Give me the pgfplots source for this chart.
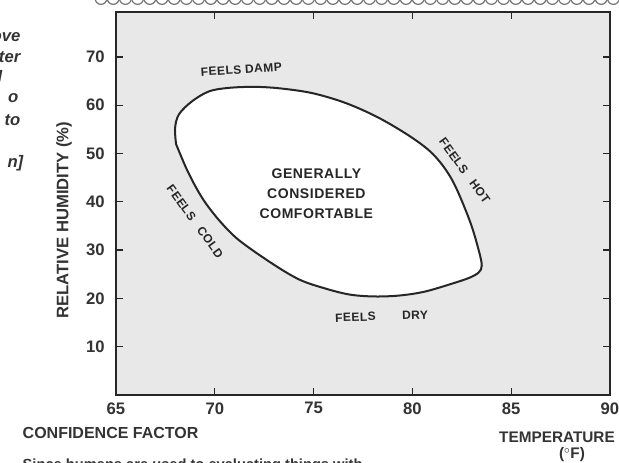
\documentclass[border=0pt]{standalone}
\usepackage{pgfplots}
\pgfplotsset{compat=1.18}
\usepackage{fontspec}
\setmainfont{Liberation Sans}
\newfontfamily\labfont{Liberation Sans}[LetterSpace=4]
\begin{document}
\begin{tikzpicture}[x=0.75pt,y=0.75pt]
\path[use as bounding box] (0,0) rectangle (619,462);
% decorative scalloped border at top
\foreach \i in {0,...,42} {
  \draw[black!55, line width=0.9pt] (101+\i*12.2, 463.5) circle[radius=4.4pt];
}
\begin{axis}[
  at={(87pt,50.25pt)}, anchor=south west,
  scale only axis, width=370.5pt, height=287.25pt,
  xmin=65, xmax=90, ymin=0, ymax=79.3,
  xtick={65,70,...,90}, ytick={10,20,...,70},
  tick align=inside, major tick length=5pt,
  tick style={black!85, line width=1pt},
  axis line style={black!85, line width=1.1pt},
  axis background/.style={fill=black!9},
  ticklabel style={font=\bfseries\fontsize{12.5}{14}\selectfont, text=black!80},
  /pgf/number format/assume math mode=true,
  xticklabel style={yshift=-2pt},
  yticklabel style={xshift=-5pt},
  clip=false,
]
\addplot[smooth, tension=0.55, draw=black!85, line width=1.5pt, fill=white] coordinates {
(68.04,51.96) (67.99,55.26) (68.19,58.14) (68.85,60.82) (69.72,62.89)
(70.73,63.6) (72.0,63.8) (73.27,63.5) (74.94,62.5) (76.66,60.4)
(78.34,57.3) (80.01,53.2) (81.13,49.5) (82.04,44.3) (82.9,36.1)
(83.36,29.9) (83.51,26.8) (83.36,25.4) (82.9,24.3) (82.04,23.1)
(80.62,21.4) (79.35,20.6) (78.08,20.4) (76.82,20.8) (75.55,22.1)
(74.28,23.9) (72.91,27.2) (71.24,32.0) (70.32,35.7) (69.56,39.6)
(69.06,42.9) (68.55,47.0) (68.04,51.96)
};
\node[font=\labfont\bfseries\fontsize{9}{10}\selectfont, text=black!85, rotate=4] at (axis cs:71.34,67.4) {FEELS DAMP};
\node[font=\labfont\bfseries\fontsize{9}{10}\selectfont, text=black!85, rotate=-54] at (axis cs:82.65,46.4) {FEELS\hspace{0.9em}HOT};
\node[font=\labfont\bfseries\fontsize{9}{10}\selectfont, text=black!85, rotate=-54] at (axis cs:69.0,35.9) {FEELS\hspace{0.9em}COLD};
\node[font=\labfont\bfseries\fontsize{9}{10}\selectfont, text=black!85, rotate=2] at (axis cs:78.44,16.3) {FEELS\hspace{2.2em}DRY};
\node[font=\labfont\bfseries\fontsize{10.5}{15}\selectfont, text=black!85, align=center] at (axis cs:75.14,41.6) {GENERALLY\\CONSIDERED\\COMFORTABLE};
\end{axis}
% axis title texts
\node[rotate=90, anchor=east, font=\bfseries\fontsize{12.5}{14}\selectfont, text=black!80] at (64,345) {RELATIVE HUMIDITY (\%)};
\node[anchor=west, font=\bfseries\fontsize{12}{14}\selectfont, text=black!80] at (18,29) {CONFIDENCE FACTOR};
\node[font=\bfseries\fontsize{11.5}{14}\selectfont, text=black!80] at (557,25) {TEMPERATURE};
\node[font=\bfseries\fontsize{11.5}{14}\selectfont, text=black!80] at (572,7) {($^{\circ}$F)};
\node[anchor=base west, font=\bfseries\fontsize{11}{13}\selectfont, text=black!80] at (18,-7) {Since humans are used to evaluating things with};
% fragments of surrounding page text (cut off at the left edge)
\begin{scope}[every node/.style={anchor=base east, font=\bfseries\itshape\fontsize{12.5}{14}\selectfont, text=black!80}]
\node at (25,421) {ove};
\node at (25,400) {ter};
\node at (7,380) {l};
\node at (23,359) {o};
\node at (25,337) {to};
\node at (28,295) {n]};
\end{scope}
\end{tikzpicture}
\end{document}
